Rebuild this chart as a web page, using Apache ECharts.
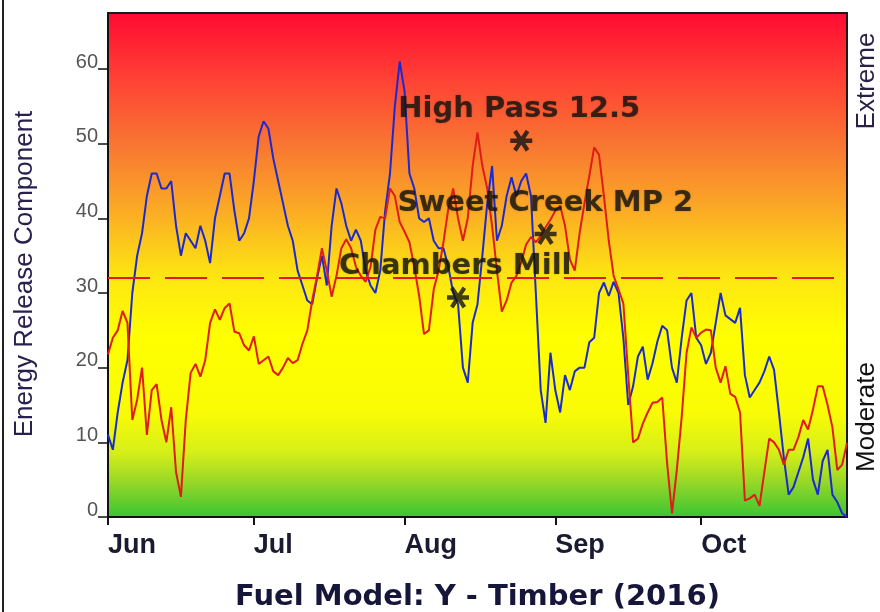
<!DOCTYPE html>
<html>
<head>
<meta charset="utf-8">
<script src="https://cdn.jsdelivr.net/npm/echarts@6/dist/echarts.min.js"></script>
<style>
  html, body { margin: 0; padding: 0; background: #fff; }
  #chart { width: 880px; height: 612px; }
</style>
</head>
<body>
<div id="chart"></div>
<script>
// days counted from 1 Jun 2016 (index 0) to 31 Oct 2016 (index 152)
var monthTicks = [0, 30, 61, 92, 122];
var monthNames = ['Jun', 'Jul', 'Aug', 'Sep', 'Oct'];
var yTicks = [0, 10, 20, 30, 40, 50, 60];
var thresholdERC = 32;

// blue station, daily ERC
var blueERC = [
    11, 9, 14, 18, 21, 30, 35, 38, 43, 46,
    46, 44, 44, 45, 39, 35, 38, 37, 36, 39,
    37, 34, 40, 43, 46, 46, 41, 37, 38, 40,
    45, 51, 53, 52, 48, 45, 42, 39, 37, 33,
    31, 29, 28.5, 32, 35, 31, 39, 44, 42, 39,
    37, 38.5, 37, 33, 31, 30, 33, 41, 46, 55,
    61, 57, 46, 44, 40, 39.5, 40, 37, 36, 36,
    33.5, 30, 28.5, 20, 18, 26, 28.5, 35, 42, 47,
    37, 39, 43, 45.5, 43, 45, 46, 43, 30, 17,
    12.6, 22, 17, 14, 19, 17, 19.5, 20, 20, 23.4,
    24, 30, 31.4, 29.6, 31.5, 30, 24, 15, 17.5, 21.5,
    22.8, 18.4, 20.6, 23.5, 25.6, 25, 20, 18, 24, 29,
    30, 24, 23, 20.5, 22, 26, 30, 27, 26.5, 26,
    28, 19, 16, 17, 18, 19.5, 21.5, 19.7, 14, 8,
    3, 4, 6, 8, 10.5, 5, 3, 7.5, 9, 3,
    2, 0.5, 0
];

// red station, daily ERC
var redERC = [
    21.8, 24, 25, 27.6, 26, 13, 15.7, 20, 11, 17,
    17.8, 13, 10, 14.7, 6, 2.7, 13, 19.3, 20.5, 18.8,
    21, 26, 27.8, 26.4, 28, 28.6, 24.8, 24.6, 23, 22.3,
    24.2, 20.5, 21, 21.5, 19.5, 19, 20, 21.3, 20.6, 21,
    23.2, 25, 29, 32.3, 36, 33, 29.5, 32.3, 36, 37.2,
    36, 33.5, 32.3, 31.5, 33.5, 38.5, 40.2, 40, 44, 43,
    39.5, 38.2, 36.8, 33.5, 29.6, 24.5, 25, 30.5, 33, 36.8,
    41.3, 44, 40, 37, 40, 47, 51.5, 47, 44, 39,
    33, 27.5, 29, 31.4, 32.3, 34.1, 36.5, 37.5, 36.8, 37.6,
    38.8, 39.8, 41, 41.7, 39, 34.5, 33, 38, 42, 45.7,
    49.5, 48.5, 43, 37, 32.3, 30.5, 28.6, 19, 10, 10.5,
    12.5, 14, 15.3, 15.4, 16, 7.2, 0.5, 6.3, 13.4, 22,
    25.4, 24, 24.7, 25.1, 25, 20, 18, 20.2, 16.5, 16.1,
    14, 2.2, 2.5, 3, 1.5, 6, 10.5, 10, 9, 7,
    9, 9, 10.7, 13, 11.7, 14.4, 17.5, 17.5, 15, 12,
    6.3, 7, 9.9
];

// station markers: [day, ERC]
var stationNames = ['High Pass 12.5', 'Sweet Creek MP 2', 'Chambers Mill'];
var stationPoints = [[85, 50.4], [90, 37.9], [72, 29.4]];

function toXY(arr) {
    return arr.map(function (v, i) { return [i, v]; });
}

// asterisk drawn as three filled bars
function asteriskPath() {
    var L = 11, w = 2.1, parts = [];
    [0, 55, -55].forEach(function (deg) {
        var a = deg * Math.PI / 180;
        var dx = Math.cos(a), dy = Math.sin(a);
        var px = -dy * w, py = dx * w;
        var pts = [
            [-dx * L + px, -dy * L + py], [dx * L + px, dy * L + py],
            [dx * L - px, dy * L - py], [-dx * L - px, -dy * L - py]
        ];
        parts.push('M' + pts.map(function (p) { return p[0].toFixed(2) + ' ' + p[1].toFixed(2); }).join(' L') + ' Z');
    });
    return 'path://' + parts.join(' ');
}

var labelShift = [[-112, -20], [-137, -20], [-108, -20]];

var chart = echarts.init(document.getElementById('chart'));

var option = {
    animation: false,
    grid: {
        left: 108, right: 33, top: 13, bottom: 95,
        outerBoundsMode: 'none',
        containLabel: false,
        show: true,
        borderColor: '#1a1a1a',
        borderWidth: 2,
        backgroundColor: {
            type: 'linear', x: 0, y: 0, x2: 0, y2: 1,
            colorStops: [
                {offset: 0, color: '#ff0a32'},
                {offset: 0.13, color: '#ff4034'},
                {offset: 0.26, color: '#f87532'},
                {offset: 0.39, color: '#fbaa25'},
                {offset: 0.52, color: '#fde512'},
                {offset: 0.64, color: '#ffff00'},
                {offset: 0.79, color: '#fafc05'},
                {offset: 0.87, color: '#d6ef18'},
                {offset: 0.93, color: '#96d728'},
                {offset: 1, color: '#38c433'}
            ]
        }
    },
    xAxis: {
        type: 'value',
        min: 0,
        max: 152,
        name: 'Fuel Model: Y - Timber (2016)',
        nameLocation: 'middle',
        nameGap: 66,
        nameTextStyle: {
            fontFamily: 'DejaVu Sans', fontWeight: 'bold', fontSize: 29, color: '#16163a'
        },
        axisLine: {lineStyle: {color: '#111', width: 2}},
        axisTick: {customValues: monthTicks, length: 8, lineStyle: {color: '#111', width: 2}},
        axisLabel: {
            customValues: monthTicks,
            formatter: function (v) { return monthNames[monthTicks.indexOf(v)] || ''; },
            align: 'left',
            margin: 15,
            fontFamily: 'Liberation Sans', fontWeight: 'bold', fontSize: 27, color: '#1a1a30'
        },
        splitLine: {show: false}
    },
    yAxis: {
        type: 'value',
        min: 0,
        max: 67.5,
        name: 'Energy Release Component',
        nameLocation: 'middle',
        nameRotate: 90,
        nameGap: 70,
        nameTextStyle: {
            fontFamily: 'Liberation Sans', fontSize: 26, color: '#2a2050', padding: [0, 18, 0, 0]
        },
        axisLine: {show: true, lineStyle: {color: '#111', width: 2}},
        axisTick: {show: true, customValues: yTicks, length: 10, lineStyle: {color: '#111', width: 1.5}},
        axisLabel: {
            customValues: yTicks,
            margin: 10,
            verticalAlign: 'bottom',
            lineHeight: 14,
            fontFamily: 'Liberation Sans', fontSize: 20, color: '#555'
        },
        splitLine: {show: false}
    },
    series: [
        {
            type: 'line',
            data: toXY(blueERC),
            showSymbol: false,
            lineStyle: {color: '#1a2ad0', width: 2},
            z: 3
        },
        {
            type: 'line',
            data: toXY(redERC),
            showSymbol: false,
            lineStyle: {color: '#e01c18', width: 2},
            z: 4,
            markLine: {
                silent: true,
                symbol: ['none', 'none'],
                label: {show: false},
                lineStyle: {color: '#e8141e', type: [42, 15], width: 2},
                data: [{yAxis: thresholdERC}]
            }
        },
        {
            type: 'scatter',
            symbol: asteriskPath(),
            symbolSize: 22,
            itemStyle: {color: '#111'},
            z: 6,
            data: stationPoints.map(function (p, i) {
                return {
                    value: p,
                    label: {
                        show: true,
                        formatter: stationNames[i],
                        position: labelShift[i],
                        align: 'left',
                        verticalAlign: 'middle',
                        fontFamily: 'DejaVu Sans', fontWeight: 'bold', fontSize: 29,
                        color: '#141410',
                        textShadowColor: 'rgba(0,0,0,0.3)',
                        textShadowBlur: 2
                    }
                };
            })
        }
    ],
    graphic: [
        {type: 'line', shape: {x1: 3, y1: 0, x2: 3, y2: 612}, style: {stroke: '#222', lineWidth: 2}},
        {
            type: 'text', x: 867, y: 81, rotation: Math.PI / 2,
            style: {text: 'Extreme', font: '26px "Liberation Sans"', fill: '#2a1f45', align: 'center', verticalAlign: 'middle'}
        },
        {
            type: 'text', x: 867, y: 417, rotation: Math.PI / 2,
            style: {text: 'Moderate', font: '26px "Liberation Sans"', fill: '#111', align: 'center', verticalAlign: 'middle'}
        }
    ]
};

chart.setOption(option);
</script>
</body>
</html>
